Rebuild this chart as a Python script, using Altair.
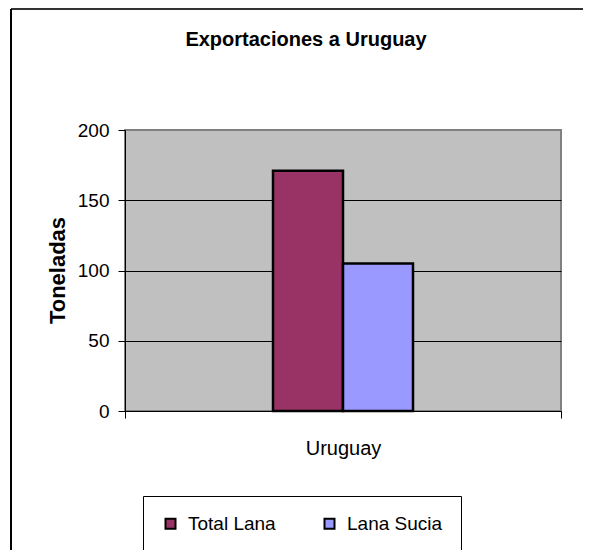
import altair as alt
import pandas as pd

categories = ["Uruguay"]
series = ["Total Lana", "Lana Sucia"]
values = [171, 105]
colors = ["#993366", "#9999FF"]
y_ticks = [0, 50, 100, 150, 200]

FONT = "Liberation Sans, Arial, Helvetica, sans-serif"

df = pd.DataFrame({
    "pais": categories * len(series),
    "serie": series,
    "toneladas": values,
})

W, H = 436, 281
PAD = {"left": 117, "top": 122, "right": 22, "bottom": 139}

bars = alt.Chart(df).mark_bar(stroke="black", strokeWidth=2.5, strokeJoin="miter").encode(
    x=alt.X(
        "pais:N", title=None,
        scale=alt.Scale(paddingInner=0, paddingOuter=0),
        axis=alt.Axis(labelAngle=0, tickBand="extent", domainColor="black", tickColor="black",
                      tickSize=7, labelFontSize=20, labelPadding=20, labelColor="black",
                      labelFont=FONT, domainWidth=1),
    ),
    xOffset=alt.XOffset("serie:N", sort=series,
                        scale=alt.Scale(paddingInner=0, paddingOuter=0, range=[148, 288])),
    y=alt.Y(
        "toneladas:Q",
        scale=alt.Scale(domain=[0, 200]),
        axis=alt.Axis(
            values=y_ticks, title="Toneladas", titleX=-68, titleY=140, titleAngle=270,
            titleAlign="center", titleBaseline="middle", titleFontSize=22,
            titleFontWeight="bold", titleFont=FONT, titleColor="black",
            tickSize=7, tickColor="black", domainColor="black", labelPadding=9,
            labelFontSize=19, labelFont=FONT, labelColor="black",
            grid=True, gridWidth=1,
            gridColor=alt.condition("datum.value == 200", alt.value("#808080"), alt.value("black")),
        ),
    ),
    color=alt.Color(
        "serie:N", sort=series,
        scale=alt.Scale(domain=series, range=colors),
        legend=alt.Legend(
            title=None, orient="none", legendX=18, legendY=366, direction="horizontal",
            symbolType="square", symbolSize=100, symbolStrokeColor="black", symbolStrokeWidth=2,
            symbolOpacity=1, labelFontSize=19, labelFont=FONT, labelColor="black",
            columnPadding=44, labelOffset=8, padding=18, strokeColor="black", fillColor="white",
        ),
    ),
)

one = pd.DataFrame({"a": [0]})
frame_top = alt.Chart(one).mark_rule(color="#333333", strokeWidth=2).encode(
    x=alt.value(-PAD["left"] + 3), x2=alt.value(W + PAD["right"]), y=alt.value(-PAD["top"] + 1)
)
frame_left = alt.Chart(one).mark_rule(color="black", strokeWidth=2).encode(
    x=alt.value(-PAD["left"] + 3), y=alt.value(-PAD["top"] + 1), y2=alt.value(H + PAD["bottom"])
)

chart = alt.layer(bars, frame_top, frame_left).properties(
    width=W, height=H,
    autosize=alt.AutoSizeParams(type="none"),
    padding=PAD,
    background="white",
    title=alt.Title("Exportaciones a Uruguay", fontSize=20, fontWeight="bold", font=FONT,
                    color="black", anchor="middle", frame="group", dx=-37, offset=-58,
                    baseline="alphabetic"),
).configure_view(stroke="#808080", strokeWidth=2, fill="#C0C0C0")

chart.save("out.html", embed_options={"renderer": "svg", "actions": False})
